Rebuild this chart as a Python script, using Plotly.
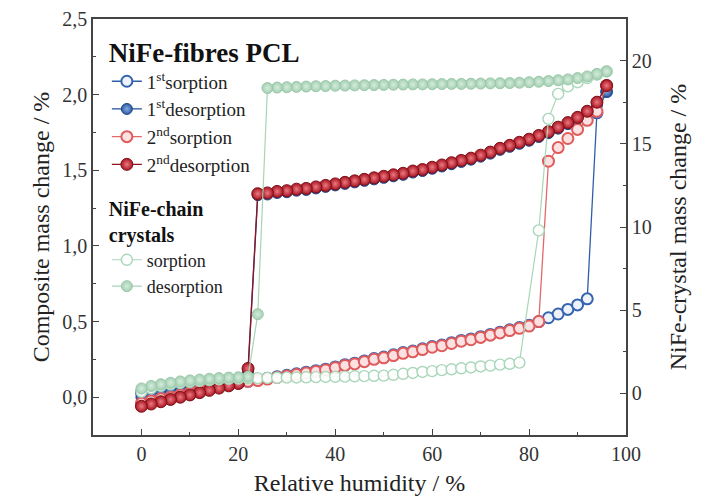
import plotly.graph_objects as go

# ---------------- data ----------------
RH_SORP = [0, 2, 4, 6, 8, 10, 12, 14, 16, 18, 20, 22, 24, 26, 28, 30, 32, 34, 36, 38,
           40, 42, 44, 46, 48, 50, 52, 54, 56, 58, 60, 62, 64, 66, 68, 70, 72, 74, 76, 78,
           80, 82, 84, 86, 88, 90, 92, 94, 96]
RH_DES = [96, 94, 92, 90, 88, 86, 84, 82, 80, 78, 76, 74, 72, 70, 68, 66, 64, 62, 60, 58,
          56, 54, 52, 50, 48, 46, 44, 42, 40, 38, 36, 34, 32, 30, 28, 26, 24, 22, 20, 18,
          16, 14, 12, 10, 8, 6, 4, 2, 0]

PCL1_SORP = [0.03, 0.04, 0.05, 0.055, 0.065, 0.07, 0.08, 0.085, 0.09, 0.095, 0.1, 0.105,
             0.115, 0.125, 0.135, 0.145, 0.155, 0.165, 0.175, 0.185, 0.2, 0.215, 0.225,
             0.24, 0.255, 0.265, 0.28, 0.295, 0.305, 0.32, 0.335, 0.345, 0.36, 0.375,
             0.385, 0.4, 0.415, 0.43, 0.445, 0.46, 0.475, 0.5, 0.525, 0.55, 0.58, 0.61,
             0.65, 1.88, 2.02]
PCL1_DES = [2.02, 1.93, 1.88, 1.84, 1.805, 1.775, 1.745, 1.72, 1.695, 1.675, 1.655, 1.635,
            1.61, 1.59, 1.57, 1.555, 1.54, 1.525, 1.51, 1.495, 1.485, 1.47, 1.46, 1.45,
            1.44, 1.43, 1.42, 1.41, 1.4, 1.39, 1.38, 1.37, 1.365, 1.355, 1.35, 1.34, 1.335,
            0.17, 0.1, 0.09, 0.08, 0.07, 0.06, 0.05, 0.04, 0.03, 0.02, 0.01, 0.0]
PCL2_SORP = [-0.04, -0.025, -0.01, 0.0, 0.015, 0.03, 0.045, 0.055, 0.07, 0.08, 0.095, 0.105,
             0.11, 0.12, 0.13, 0.14, 0.15, 0.16, 0.17, 0.18, 0.195, 0.21, 0.22, 0.235,
             0.25, 0.26, 0.275, 0.29, 0.3, 0.315, 0.33, 0.34, 0.355, 0.37, 0.38, 0.395,
             0.41, 0.425, 0.44, 0.455, 0.47, 0.5, 1.56, 1.65, 1.71, 1.77, 1.83, 1.89, 2.06]
PCL2_DES = [2.06, 1.95, 1.89, 1.85, 1.815, 1.785, 1.755, 1.73, 1.705, 1.685, 1.665, 1.645,
            1.62, 1.6, 1.58, 1.565, 1.55, 1.535, 1.52, 1.505, 1.495, 1.48, 1.47, 1.46,
            1.45, 1.44, 1.43, 1.42, 1.41, 1.4, 1.39, 1.38, 1.375, 1.365, 1.36, 1.35, 1.345,
            0.19, 0.09, 0.075, 0.06, 0.045, 0.03, 0.015, 0.0, -0.015, -0.03, -0.045, -0.06]

RH_CRYS_SORP = [0, 2, 4, 6, 8, 10, 12, 14, 16, 18, 20, 22, 24, 26, 28, 30, 32, 34, 36, 38,
                40, 42, 44, 46, 48, 50, 52, 54, 56, 58, 60, 62, 64, 66, 68, 70, 72, 74, 76,
                78, 82, 84, 86, 88, 90, 92, 94, 96]
CRYS_SORP = [0.1, 0.3, 0.45, 0.55, 0.63, 0.7, 0.75, 0.8, 0.84, 0.87, 0.89, 0.91, 0.92, 0.93,
             0.94, 0.95, 0.96, 0.97, 0.98, 0.99, 1.0, 1.01, 1.03, 1.04, 1.06, 1.07, 1.12,
             1.18, 1.23, 1.29, 1.34, 1.4, 1.45, 1.51, 1.56, 1.62, 1.67, 1.73, 1.78, 1.85,
             9.8, 16.5, 18.0, 18.45, 18.7, 18.95, 19.15, 19.35]
RH_CRYS_DES = RH_DES
CRYS_DES = [19.35, 19.2, 19.05, 18.95, 18.87, 18.82, 18.77, 18.73, 18.7, 18.67, 18.65,
            18.64, 18.63, 18.62, 18.61, 18.6, 18.6, 18.59, 18.58, 18.57, 18.57, 18.56,
            18.55, 18.54, 18.53, 18.52, 18.51, 18.5, 18.49, 18.47, 18.46, 18.44, 18.42,
            18.4, 18.38, 18.35, 4.76, 1.0, 0.97, 0.95, 0.92, 0.88, 0.83, 0.78, 0.72, 0.64,
            0.55, 0.45, 0.3]

FONT = "Liberation Serif"

fig = go.Figure()

# NiFe-chain crystals (right axis)
fig.add_trace(go.Scatter(
    x=RH_CRYS_SORP, y=CRYS_SORP, yaxis="y2", mode="lines+markers", name="sorption",
    legend="legend2",
    line=dict(color="#a9d6b9", width=1.2),
    marker=dict(size=11, color="rgba(255,255,255,0.9)", line=dict(color="#a9d6b9", width=1.4))))
fig.add_trace(go.Scatter(
    x=RH_CRYS_DES, y=CRYS_DES, yaxis="y2", mode="lines+markers", name="desorption",
    legend="legend2",
    line=dict(color="#a9d3b6", width=1.2),
    marker=dict(size=11, color="#a4cfb2", gradient=dict(type="radial", color="#d4ecdc"),
                line=dict(color="#9cc8aa", width=1))))

# NiFe-fibres PCL (left axis)
fig.add_trace(go.Scatter(
    x=RH_SORP, y=PCL1_SORP, mode="lines+markers", name="1<sup>st</sup>sorption",
    legend="legend",
    line=dict(color="#2f5ea8", width=1.3),
    marker=dict(size=11, color="#eef3fb", line=dict(color="#3563b0", width=2))))
fig.add_trace(go.Scatter(
    x=RH_DES, y=PCL1_DES, mode="lines+markers", name="1<sup>st</sup>desorption",
    legend="legend",
    line=dict(color="#244f96", width=1.3),
    marker=dict(size=11, color="#2a5aa5", gradient=dict(type="radial", color="#88aadd"),
                line=dict(color="#1e4585", width=1))))
fig.add_trace(go.Scatter(
    x=RH_SORP, y=PCL2_SORP, mode="lines+markers", name="2<sup>nd</sup>sorption",
    legend="legend",
    line=dict(color="#e06a6a", width=1.3),
    marker=dict(size=11, color="#fbe1e1", line=dict(color="#e05c5c", width=2))))
fig.add_trace(go.Scatter(
    x=RH_DES, y=PCL2_DES, mode="lines+markers", name="2<sup>nd</sup>desorption",
    legend="legend",
    line=dict(color="#8e1420", width=1.3),
    marker=dict(size=12, color="#a8141f", gradient=dict(type="radial", color="#ec7a84"),
                line=dict(color="#7e0f18", width=1))))

axis_common = dict(
    showgrid=False, zeroline=False, showline=True, linecolor="#444", linewidth=1.5,
    ticks="inside", ticklen=6, tickwidth=1.2, tickcolor="#444", automargin=False,
    ticklabeloverflow="allow",
    tickfont=dict(family=FONT, size=20, color="#333"),
)

# the page body adds an 8 px offset, so the figure is sized to fit the window
fig.update_layout(
    width=704, height=493,
    margin=dict(l=85, r=86, t=11, b=66),
    paper_bgcolor="white", plot_bgcolor="white",
    separators=", ",
    font=dict(family=FONT, color="#222"),
    xaxis=dict(range=[-10, 100], tick0=0, dtick=20, mirror=True,
               minor=dict(dtick=10, ticklen=3, ticks="inside", tickcolor="#444"),
               title=dict(text="Relative humidity / %", font=dict(family=FONT, size=24, color="#222"),
                          standoff=10),
               **axis_common),
    yaxis=dict(range=[-0.25, 2.5], tick0=0, dtick=0.5, tickformat=".1f",
               minor=dict(dtick=0.25, ticklen=3, ticks="inside", tickcolor="#444"),
               title=dict(text="Composite mass change / %", font=dict(family=FONT, size=24, color="#222"),
                          standoff=6),
               **axis_common),
    yaxis2=dict(range=[-2.5, 22.5], tick0=0, dtick=5, overlaying="y", side="right",
                minor=dict(dtick=2.5, ticklen=3, ticks="inside", tickcolor="#444"),
                title=dict(text="NiFe-crystal mass change / %", font=dict(family=FONT, size=24, color="#222"),
                           standoff=18),
                **axis_common),
    legend=dict(
        x=0.026, y=0.98, xanchor="left", yanchor="top", bgcolor="rgba(0,0,0,0)",
        font=dict(family=FONT, size=19, color="#222"), itemwidth=30, tracegroupgap=0,
        title=dict(text="<b>NiFe-fibres PCL</b>", font=dict(family=FONT, size=27, color="#111"), side="top"),
    ),
    legend2=dict(
        x=0.026, y=0.59, xanchor="left", yanchor="top", bgcolor="rgba(0,0,0,0)",
        font=dict(family=FONT, size=18, color="#222"), itemwidth=30, tracegroupgap=0,
        title=dict(text="<b>NiFe-chain<br>crystals</b>", font=dict(family=FONT, size=20, color="#111"), side="top"),
    ),
)

fig.write_html("out.html")
